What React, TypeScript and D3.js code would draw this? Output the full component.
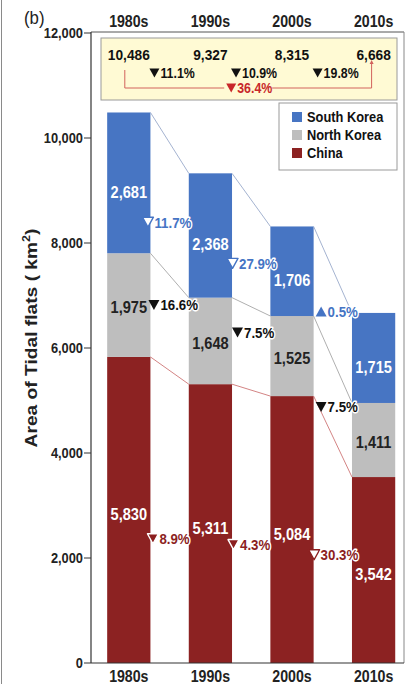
import * as d3 from "d3";

const decades = ["1980s", "1990s", "2000s", "2010s"];
const southKorea = [2681, 2368, 1706, 1715];
const northKorea = [1975, 1648, 1525, 1411];
const china = [5830, 5311, 5084, 3542];
const totals = [10486, 9327, 8315, 6668];
const southKoreaChange = [-11.7, -27.9, 0.5];
const northKoreaChange = [-16.6, -7.5, -7.5];
const chinaChange = [-8.9, -4.3, -30.3];
const totalChange = [-11.1, -10.9, -19.8];
const overallChange = -36.4;
const yTicks = [0, 2000, 4000, 6000, 8000, 10000, 12000];

const W = 410;
const H = 684;
const FONT = "'Liberation Sans', Arial, sans-serif";
const SQ = 0.885; // the figure is squeezed sideways

const fmt = d3.format(",");
const pct = (v: number) => `${Math.abs(v).toFixed(1)}%`;

function Label({ x, y, size, children, anchor = "middle", fill = "#111", weight = 700, halo = false, rotate = false }: any) {
  const tf = rotate
    ? `translate(${x},${y}) rotate(-90) scale(${1 / SQ},1)`
    : `translate(${x},${y}) scale(${SQ},1)`;
  return (
    <text
      transform={tf}
      fontSize={size}
      textAnchor={anchor}
      fill={fill}
      fontWeight={weight}
      fontFamily={FONT}
      stroke={halo ? "#fff" : undefined}
      strokeWidth={halo ? 3 : undefined}
      strokeLinejoin="round"
      paintOrder="stroke"
    >
      {children}
    </text>
  );
}

// small triangle, x = left edge, y = centre
function Tri({ x, y, up, fill, stroke, sw = 1, w = 11, h = 10 }: any) {
  const d = up
    ? `M${x},${y + h / 2}L${x + w},${y + h / 2}L${x + w / 2},${y - h / 2}Z`
    : `M${x},${y - h / 2}L${x + w},${y - h / 2}L${x + w / 2},${y + h / 2}Z`;
  return <path d={d} fill={fill} stroke={stroke} strokeWidth={sw} strokeLinejoin="round" />;
}

function Change({ x, y, value, color, hollow, size = 15, halo = true, triStroke, tw = 11, th = 10 }: any) {
  const up = value > 0;
  return (
    <g>
      <Tri
        x={x}
        y={y}
        up={up}
        w={tw}
        h={th}
        fill={hollow && !up ? "#fff" : color}
        stroke={hollow && !up ? color : triStroke || "none"}
        sw={1.4}
      />
      <Label x={x + tw + 1} y={y + size * 0.36} size={size} anchor="start" fill={color} halo={halo}>
        {pct(value)}
      </Label>
    </g>
  );
}

export default function App() {
  const x = d3.scaleBand<string>().domain(decades).range([88, 414.4]).paddingInner(0.47).paddingOuter(0.235);
  const y = d3.scaleLinear().domain([0, 12000]).range([663, 33]);
  const bw = x.bandwidth();

  const rows = decades.map((d, i) => ({ decade: d, china: china[i], northKorea: northKorea[i], southKorea: southKorea[i] }));
  const stacked = d3.stack<any>().keys(["china", "northKorea", "southKorea"])(rows);

  // label nudges (px) for the change annotations, as placed in the original figure
  const series = [
    { key: "china", name: "China", color: "#8C2222", line: "#c86464", text: "#fff", change: chinaChange, pctColor: "#8C1F1F", hollow: [false, false, true], valDy: 5, dy: [22, 18, 5], dx: [-3, -4, -5] },
    { key: "northKorea", name: "North Korea", color: "#BEBEBE", line: "#9a9a9a", text: "#222", change: northKoreaChange, pctColor: "#111", hollow: [false, false, false], valDy: 3, dy: [-18, -16, 9], dx: [-2, 0, 2] },
    { key: "southKorea", name: "South Korea", color: "#4775C3", line: "#8d9fc4", text: "#fff", change: southKoreaChange, pctColor: "#4574c4", hollow: [true, true, true], valDy: 10, dy: [13, 10, -3], dx: [-8, -5, 2] },
  ];

  const left = 91, right = 404, top = 32, bottom = 663;
  const cx = (d: string) => (x(d) as number) + bw / 2;

  const bx0 = cx(decades[0]) - 4;
  const bx1 = cx(decades[3]) - 2;
  const midB = (bx0 + bx1) / 2;

  return (
    <svg width={W} height={H} style={{ position: "absolute", left: 0, top: 0, background: "#fff" }}>
      <rect width={W} height={H} fill="#fff" />
      <line x1={1.5} x2={1.5} y1={0} y2={H} stroke="#8a8a8a" strokeWidth={1} />

      {/* panel letter */}
      <Label x={24} y={24} size={19} anchor="start" weight={400} fill="#222">(b)</Label>

      {/* frame */}
      <line x1={left} x2={right} y1={top} y2={top} stroke="#555" strokeWidth={1} />
      <line x1={right} x2={right} y1={top} y2={bottom} stroke="#888" strokeWidth={1} />

      {/* bars */}
      {stacked.map((s, si) => (
        <g key={s.key}>
          {s.map((d, i) => (
            <rect key={i} x={x(decades[i])} y={y(d[1])} width={bw} height={y(d[0]) - y(d[1])} fill={series[si].color} />
          ))}
        </g>
      ))}

      {/* connectors between bar tops */}
      {stacked.map((s, si) =>
        s.slice(0, -1).map((d, i) => (
          <line
            key={`${s.key}-${i}`}
            x1={(x(decades[i]) as number) + bw}
            y1={y(d[1])}
            x2={x(decades[i + 1])}
            y2={y(s[i + 1][1])}
            stroke={series[si].line}
            strokeWidth={0.8}
          />
        ))
      )}

      {/* segment values */}
      {stacked.map((s, si) =>
        s.map((d, i) => (
          <Label key={`${s.key}-v${i}`} x={cx(decades[i])} y={(y(d[0]) + y(d[1])) / 2 + series[si].valDy + 5} size={16.5} fill={series[si].text}>
            {fmt(d[1] - d[0])}
          </Label>
        ))
      )}

      {/* segment changes */}
      {stacked.map((s, si) =>
        series[si].change.map((v, i) => {
          const m0 = (y(s[i][0]) + y(s[i][1])) / 2;
          const m1 = (y(s[i + 1][0]) + y(s[i + 1][1])) / 2;
          return (
            <Change
              key={`${s.key}-c${i}`}
              x={(x(decades[i]) as number) + bw + series[si].dx[i]}
              y={(m0 + m1) / 2 + series[si].dy[i]}
              value={v}
              color={series[si].pctColor}
              hollow={series[si].hollow[i]}
              triStroke={si === 0 ? "#fff" : "none"}
            />
          );
        })
      )}

      {/* y axis */}
      <line x1={left} x2={left} y1={top} y2={bottom} stroke="#333" strokeWidth={1.2} />
      <line x1={left} x2={right} y1={bottom} y2={bottom} stroke="#333" strokeWidth={1.2} />
      {yTicks.map((t) => (
        <g key={t}>
          <line x1={left - 7} x2={left} y1={y(t)} y2={y(t)} stroke="#333" strokeWidth={1} />
          <Label x={left - 8} y={y(t) + 5} size={14.5} anchor="end" fill="#222">{fmt(t)}</Label>
        </g>
      ))}
      <Label x={37} y={338} size={17} rotate fill="#222">
        Area of Tidal flats ( km<tspan fontSize={11} dy={-7}>2</tspan><tspan dy={7}>)</tspan>
      </Label>

      {/* category labels */}
      {decades.map((d) => (
        <g key={d}>
          <Label x={cx(d)} y={27} size={16} fill="#222">{d}</Label>
          <Label x={cx(d)} y={682} size={16} fill="#222">{d}</Label>
        </g>
      ))}

      {/* totals box */}
      <rect x={101} y={38} width={296} height={62} fill="#FFFAD4" stroke="#9a9a9a" strokeWidth={1} />
      {totals.map((t, i) => (
        <Label key={i} x={cx(decades[i])} y={60} size={15.5} fill="#111">{fmt(t)}</Label>
      ))}
      {totalChange.map((v, i) => (
        <Change key={i} x={(x(decades[i]) as number) + bw - 1} y={73} value={v} color="#111" halo={false} size={14} tw={10} th={9} />
      ))}
      <path
        d={`M${bx0},70V88H${midB - 24}M${midB + 24},88H${bx1}V62`}
        fill="none"
        stroke="#d2625c"
        strokeWidth={1}
      />
      <path d={`M${bx1 - 2},64L${bx1 + 2},64L${bx1},60Z`} fill="#d2625c" />
      <Change x={midB - 22} y={88} value={overallChange} color="#c8282a" halo={false} size={14} tw={10} th={9} />

      {/* legend */}
      <rect x={279} y={103} width={118} height={67} fill="#fff" stroke="#9a9a9a" strokeWidth={1} />
      {[...series].reverse().map((s, i) => (
        <g key={s.key}>
          <rect x={292} y={112 + i * 18} width={10} height={10} fill={s.color} />
          <Label x={307} y={122 + i * 18} size={14.5} anchor="start" fill="#111">{s.name}</Label>
        </g>
      ))}
    </svg>
  );
}
